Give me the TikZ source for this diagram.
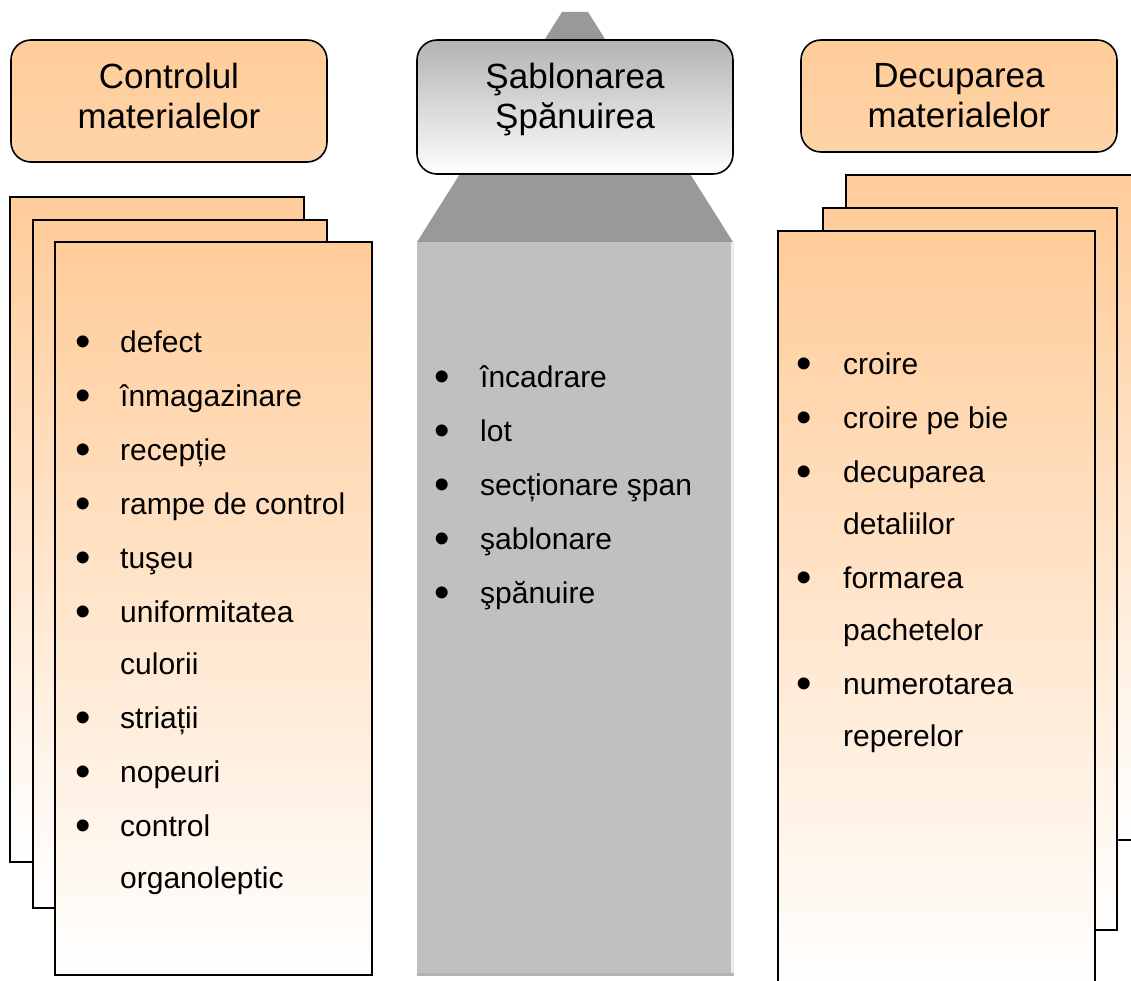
\documentclass[tikz,border=0pt]{standalone}
\usepackage{fontspec}
\setmainfont{Liberation Sans}
\definecolor{cardtop}{HTML}{FFCC99}
\definecolor{ttlorange}{HTML}{FFCC99}
\definecolor{trapgray}{HTML}{999999}
\definecolor{colgray}{HTML}{C0C0C0}
\begin{document}
\begin{tikzpicture}[x=1pt,y=-1pt,
  card/.style={draw=black,line width=2pt,top color=cardtop,bottom color=white},
  titlebox/.style={draw=black,line width=1.6pt,rounded corners=20pt,inner sep=0pt},
  ttl/.style={align=center,inner sep=0pt,font=\fontsize{35}{40}\selectfont},
  item/.style={anchor=base west,inner sep=0pt,font=\fontsize{30}{36}\selectfont},
  bul/.style={anchor=base,inner sep=0pt,yshift=-4.5pt,font=\fontsize{44}{48}\selectfont}]
\useasboundingbox (0,0) rectangle (1131,981);

% left stacked cards
\path[card] (10,197) rectangle (304,862);
\path[card] (33,220) rectangle (327,908);
\path[card] (55,242) rectangle (372,975);

% right stacked cards
\path[card] (846,175) rectangle (1150,840);
\path[card] (823,208) rectangle (1117,930);
\path[card] (778,231) rectangle (1095,995);

% center column
\fill[trapgray] (562,12) -- (588,12) -- (733,242) -- (417,242) -- cycle;
\fill[colgray] (417,242) rectangle (733,975);
\fill[gray!15] (731,242) rectangle (734,975);
\fill[gray!60] (417,973) rectangle (734,976);

% title boxes
\node[titlebox,top color=ttlorange,bottom color=ttlorange!85,minimum width=316pt,minimum height=122pt] (tl) at (169,101) {};
\node[titlebox,top color=gray!60,bottom color=white,minimum width=316pt,minimum height=134pt] (tc) at (575,107) {};
\node[titlebox,top color=ttlorange,bottom color=ttlorange!85,minimum width=316pt,minimum height=112pt] (tr) at (959,96) {};

\node[ttl] (tltext) at (169,96) {Controlul\\materialelor};
\node[ttl] (tctext) at (575,100) {Şablonarea\\Şpănuirea};
\node[ttl] (trtext) at (959,96) {Decuparea\\materialelor};

% left list
\foreach \y/\t/\b [count=\i] in {352/defect/1,406/înmagazinare/1,460/recepție/1,514/rampe de control/1,568/tuşeu/1,622/uniformitatea/1,674/culorii/0,728/striații/1,782/nopeuri/1,836/control/1,888/organoleptic/0}{
  \node[item] (l\i) at (120,\y) {\t};
  \ifnum\b=1 \node[bul] (lb\i) at (83,\y) {•};\fi
}
% center list
\foreach \y/\t [count=\i] in {387/încadrare,441/lot,495/secționare şpan,549/şablonare,603/şpănuire}{
  \node[item] (c\i) at (480,\y) {\t};
  \node[bul] (cb\i) at (442,\y) {•};
}
% right list
\foreach \y/\t/\b [count=\i] in {374/croire/1,428/croire pe bie/1,482/decuparea/1,534/detaliilor/0,588/formarea/1,640/pachetelor/0,694/numerotarea/1,746/reperelor/0}{
  \node[item] (r\i) at (843,\y) {\t};
  \ifnum\b=1 \node[bul] (rb\i) at (804,\y) {•};\fi
}
\end{tikzpicture}
\end{document}
